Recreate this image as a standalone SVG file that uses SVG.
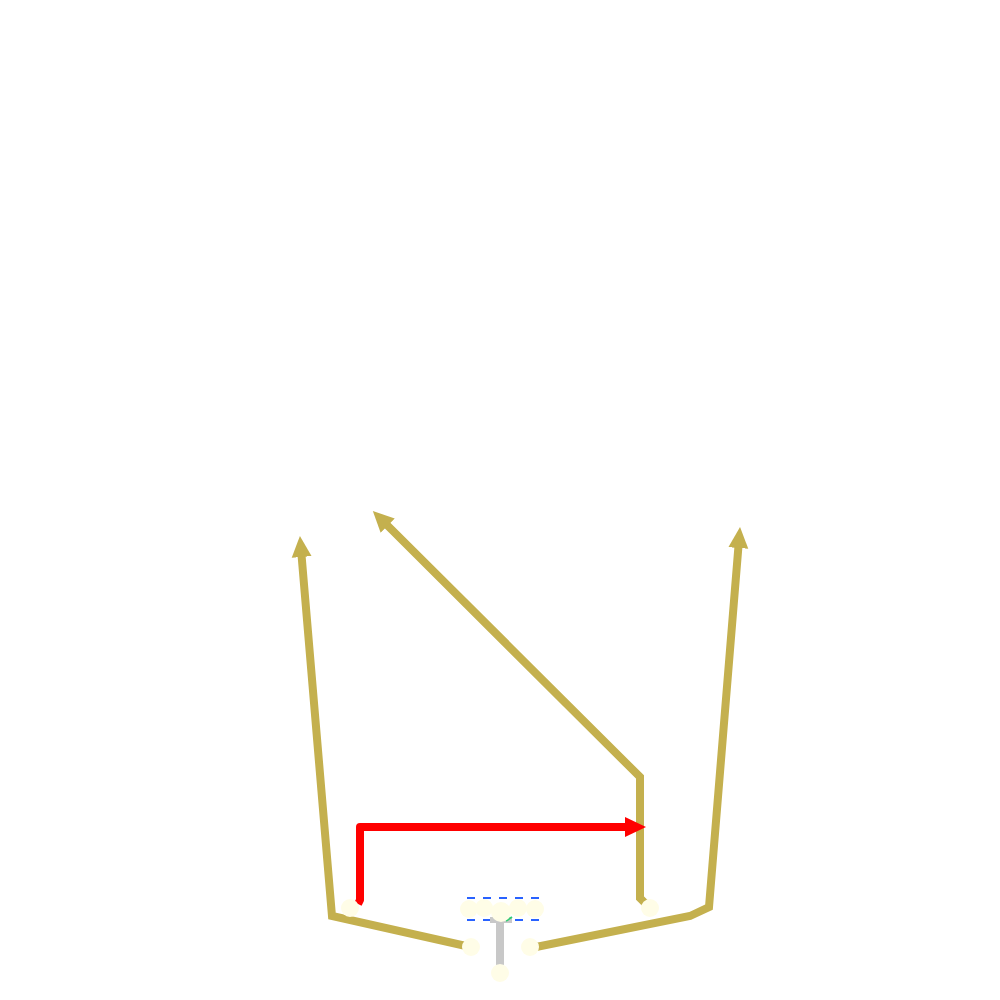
<svg xmlns="http://www.w3.org/2000/svg" width="1000" height="1000" viewBox="0 0 1000 1000">
<style>
.gold{fill:none;stroke:#C4B04E;stroke-width:8;stroke-linejoin:miter}
.red{fill:none;stroke:#FF0000;stroke-width:8;stroke-linejoin:round}
.pt{fill:#FFFDE7}
</style>
<defs>
<marker id="ag" markerUnits="userSpaceOnUse" markerWidth="22" markerHeight="22" refX="1" refY="10" orient="auto" viewBox="0 0 22 20"><path d="M0,0 L21,10 L0,20 z" fill="#C4B04E"/></marker>
<marker id="ar" markerUnits="userSpaceOnUse" markerWidth="22" markerHeight="22" refX="1" refY="10" orient="auto" viewBox="0 0 22 20"><path d="M0,0 L21,10 L0,20 z" fill="#FF0000"/></marker>
</defs>
<rect width="1000" height="1000" fill="#fff"/>
<g id="connectors">
<path class="gold" d="M466,946 L332,916 L301.6,556" marker-end="url(#ag)"/>
<path class="gold" d="M650,908 L640,898 L640,777 L387,525" marker-end="url(#ag)"/>
<path class="gold" d="M536,947 L690,916 L709,907 L738.4,547" marker-end="url(#ag)"/>
<path class="red" d="M358,904 L360,900 L360,827 L626,827" marker-end="url(#ar)"/>
</g>
<g id="device">
<rect x="467" y="898" width="73" height="22" fill="none" stroke="#2962FF" stroke-width="2" stroke-dasharray="8,8"/>
<rect x="490" y="917" width="22" height="6" fill="#C8C8C8"/>
<rect x="496" y="917" width="8" height="48" fill="#C8C8C8"/>
<path d="M506,921 L512,917" stroke="#2ECC71" stroke-width="2"/>
</g>
<g id="points">
<circle class="pt" cx="350" cy="908" r="9"/>
<circle class="pt" cx="650" cy="908" r="9"/>
<circle class="pt" cx="471" cy="947" r="9"/>
<circle class="pt" cx="530" cy="947" r="9"/>
<circle class="pt" cx="500" cy="973" r="9"/>
<circle class="pt" cx="469" cy="909" r="9"/>
<circle class="pt" cx="484" cy="908" r="9"/>
<circle class="pt" cx="518" cy="908" r="9"/>
<circle class="pt" cx="535" cy="909" r="9"/>
<circle class="pt" cx="501" cy="912" r="10"/>
</g>
</svg>
